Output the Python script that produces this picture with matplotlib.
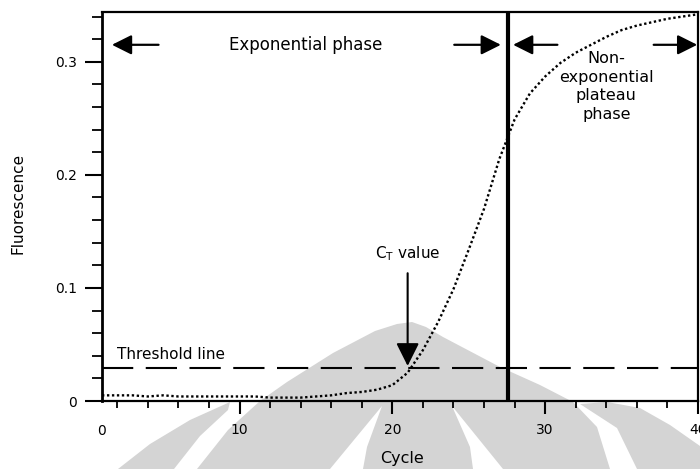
import matplotlib
matplotlib.use("Agg")
import matplotlib.pyplot as plt
from matplotlib.patches import Polygon
from matplotlib.ticker import MultipleLocator, FixedLocator
import matplotlib.transforms as mtrans

# ---- data ----
cycles = list(range(1, 41))
fluorescence = [0.005, 0.005, 0.005, 0.004, 0.005, 0.004, 0.004, 0.004, 0.004, 0.004,
                0.004, 0.003, 0.003, 0.003, 0.004, 0.005, 0.007, 0.008, 0.010, 0.014,
                0.025, 0.045, 0.070, 0.099, 0.134, 0.170, 0.214, 0.249, 0.272, 0.287,
                0.299, 0.308, 0.315, 0.322, 0.328, 0.332, 0.335, 0.338, 0.340, 0.342]
threshold = 0.029
ct_value = 21.0
phase_boundary = 27.55
x_major = [10, 20, 30, 40]
y_major = [0, 0.1, 0.2, 0.3]
y_major_labels = ["0", "0.1", "0.2", "0.3"]

W, H = 700, 469
fig = plt.figure(figsize=(7.0, 4.69), dpi=100)
ax = fig.add_axes([102 / W, 1 - 401 / H, 596 / W, 389 / H])
ax.set_facecolor("none")
ax.set_zorder(1)

# ---- faint scanned watermark (background decoration) ----
grey = "#d4d4d4"
def px(points):
    return [(x / W, 1 - y / H) for x, y in points]

shapes = [
    # left band
    [(118, 469), (150, 444), (190, 420), (230, 402), (228, 410), (200, 436), (174, 469)],
    # main dome
    [(197, 469), (228, 430), (260, 401), (287, 382), (333, 353), (375, 331), (397, 324),
     (412, 322), (426, 327), (443, 337), (500, 367), (540, 385), (573, 402), (597, 427),
     (610, 469)],
    # right band
    [(580, 404), (607, 402), (640, 408), (670, 425), (700, 446), (700, 469), (637, 469),
     (617, 428)],
]
for s in shapes:
    fig.patches.append(Polygon(px(s), closed=True, transform=fig.transFigure,
                               facecolor=grey, edgecolor="none", zorder=0.2))
whites = [
    [(382, 406), (367, 447), (363, 469), (330, 469)],
    [(452, 406), (470, 447), (473, 469), (503, 469)],
]
for s in whites:
    fig.patches.append(Polygon(px(s), closed=True, transform=fig.transFigure,
                               facecolor="white", edgecolor="none", zorder=0.3))

# ---- chart ----
ax.plot(cycles, fluorescence, color="black", lw=1.7, linestyle=(0, (1, 1.1)))
ax.axhline(threshold, color="black", lw=1.5, dashes=(15, 6))
ax.axvline(phase_boundary, color="black", lw=3.0)

ax.set_xlim(1.0, 40.0)
ax.set_ylim(0, 0.344)

ax.xaxis.set_major_locator(FixedLocator(x_major))
ax.xaxis.set_minor_locator(FixedLocator([c for c in range(2, 40, 2) if c % 10]))
ax.yaxis.set_major_locator(FixedLocator(y_major))
ax.set_yticklabels(y_major_labels)
ax.yaxis.set_minor_locator(MultipleLocator(0.02))

ax.tick_params(axis="x", which="major", direction="out", length=9.5, width=1.5,
               labelsize=10, pad=6)
ax.tick_params(axis="x", which="minor", direction="out", length=5, width=1.3)
ax.tick_params(axis="y", which="major", direction="out", length=12, width=1.5,
               labelsize=10, pad=6)
ax.tick_params(axis="y", which="minor", direction="out", length=7, width=1.3)
for side, sp in ax.spines.items():
    sp.set_linewidth(2.0 if side == "left" else 1.6)

# "0" label at the left edge of the cycle axis, as printed
ax.text(1.0, -0.077, "0", transform=ax.get_xaxis_transform(), ha="center",
        va="center", fontsize=10)

fig.text(402 / W, 1 - 458 / H, "Cycle", ha="center", va="center", fontsize=11.5)
fig.text(18 / W, 1 - 203 / H, "Fluorescence", ha="center", va="center",
         rotation=90, fontsize=11)

# phase annotations
arrow_y = 0.315
def arrow(tail, tip):
    ax.annotate("", xy=(tip, arrow_y), xytext=(tail, arrow_y),
                arrowprops=dict(arrowstyle="-|>,head_length=0.6,head_width=0.3",
                                lw=1.6, color="black", mutation_scale=20,
                                shrinkA=0, shrinkB=0))

arrow(4.7, 1.65)
arrow(24.05, 27.1)
arrow(30.8, 27.9)
arrow(37.1, 39.95)

ax.text(14.3, arrow_y, "Exponential phase", ha="center", va="center", fontsize=12)
ax.text(34.0, 0.278, "Non-\nexponential\nplateau\nphase", ha="center", va="center",
        fontsize=11.5, linespacing=1.3)
ax.text(2.0, 0.0407, "Threshold line", ha="left", va="center", fontsize=11)

# C_T arrow
ax.annotate("", xy=(ct_value, 0.031), xytext=(ct_value, 0.113),
            arrowprops=dict(arrowstyle="-|>,head_length=0.7,head_width=0.35",
                            lw=1.5, color="black", mutation_scale=20,
                            shrinkA=0, shrinkB=0))
ax.text(ct_value, 0.130, r"C$_{\rm T}$ value", ha="center", va="center", fontsize=11)

fig.savefig("out.png", dpi=100)
